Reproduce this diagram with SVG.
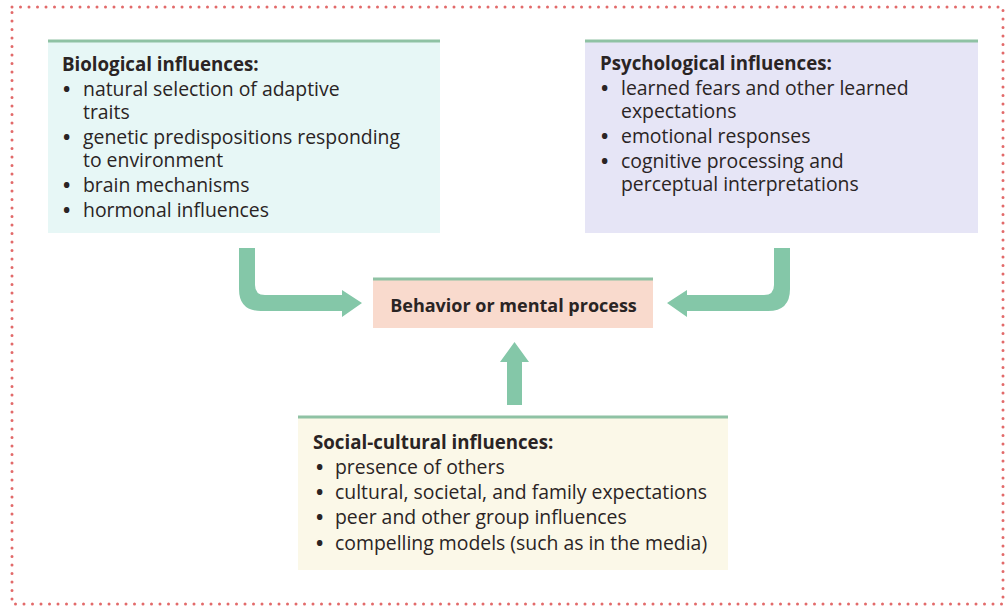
<svg xmlns="http://www.w3.org/2000/svg" width="1007" height="607" viewBox="0 0 1007 607">
<style>
.t{font-family:"Open Sans","Noto Sans","Liberation Sans",sans-serif;font-size:19.4px;fill:#2a2424}
.h{font-weight:bold;font-size:18.7px}
.c{font-weight:bold;font-size:18px}
.d{font-weight:bold}
.top{stroke:#8fc2a4;stroke-width:3}
.arr{fill:#84c7a8}
</style>
<rect width="1007" height="607" fill="#ffffff"/>
<rect x="12" y="7" width="991" height="597" fill="none" stroke="#e26a6a" stroke-width="3" stroke-linecap="round" stroke-dasharray="0 8.5"/>
<g id="biological">
<rect x="48" y="40" width="392" height="193" fill="#e7f7f6"/>
<line class="top" x1="48" y1="41" x2="440" y2="41"/>
<text class="t h" x="62" y="71">Biological influences:</text>
<text class="t d" x="63" y="96">•</text><text class="t" x="83" y="96">natural selection of adaptive</text>
<text class="t" x="83" y="119">traits</text>
<text class="t d" x="63" y="144">•</text><text class="t" x="83" y="144">genetic predispositions responding</text>
<text class="t" x="83" y="167">to environment</text>
<text class="t d" x="63" y="192">•</text><text class="t" x="83" y="192">brain mechanisms</text>
<text class="t d" x="63" y="217">•</text><text class="t" x="83" y="217">hormonal influences</text>
</g>
<g id="psychological">
<rect x="585" y="40" width="393" height="193" fill="#e6e5f6"/>
<line class="top" x1="585" y1="41" x2="978" y2="41"/>
<text class="t h" x="600" y="70">Psychological influences:</text>
<text class="t d" x="601" y="95">•</text><text class="t" x="621" y="95">learned fears and other learned</text>
<text class="t" x="621" y="118">expectations</text>
<text class="t d" x="601" y="143">•</text><text class="t" x="621" y="143">emotional responses</text>
<text class="t d" x="601" y="168">•</text><text class="t" x="621" y="168">cognitive processing and</text>
<text class="t" x="621" y="191">perceptual interpretations</text>
</g>
<g id="behavior">
<rect x="373" y="278" width="280" height="50" fill="#f9dacd"/>
<line class="top" x1="373" y1="279" x2="653" y2="279"/>
<text class="t c" x="513.5" y="312" text-anchor="middle">Behavior or mental process</text>
</g>
<g id="social">
<rect x="298" y="416" width="430" height="154" fill="#fbf8e8"/>
<line class="top" x1="298" y1="417" x2="728" y2="417"/>
<text class="t h" x="313" y="449">Social-cultural influences:</text>
<text class="t d" x="316" y="474">•</text><text class="t" x="335" y="474">presence of others</text>
<text class="t d" x="316" y="499">•</text><text class="t" x="335" y="499">cultural, societal, and family expectations</text>
<text class="t d" x="316" y="524">•</text><text class="t" x="335" y="524">peer and other group influences</text>
<text class="t d" x="316" y="550">•</text><text class="t" x="335" y="550">compelling models (such as in the media)</text>
</g>
<g id="connectors">
<path class="arr" d="M239,248 L255,248 L255,285 Q255,295 265,295 L342,295 L342,290 L362,303 L342,317 L342,311 L261,311 Q239,311 239,289 Z"/>
<path class="arr" d="M790,248 L774,248 L774,285 Q774,295 764,295 L687,295 L687,290 L667,303 L687,317 L687,311 L768,311 Q790,311 790,289 Z"/>
<path class="arr" d="M507,405 L507,362 L500,362 L514.5,342 L529,362 L522,362 L522,405 Z"/>
</g>
</svg>
